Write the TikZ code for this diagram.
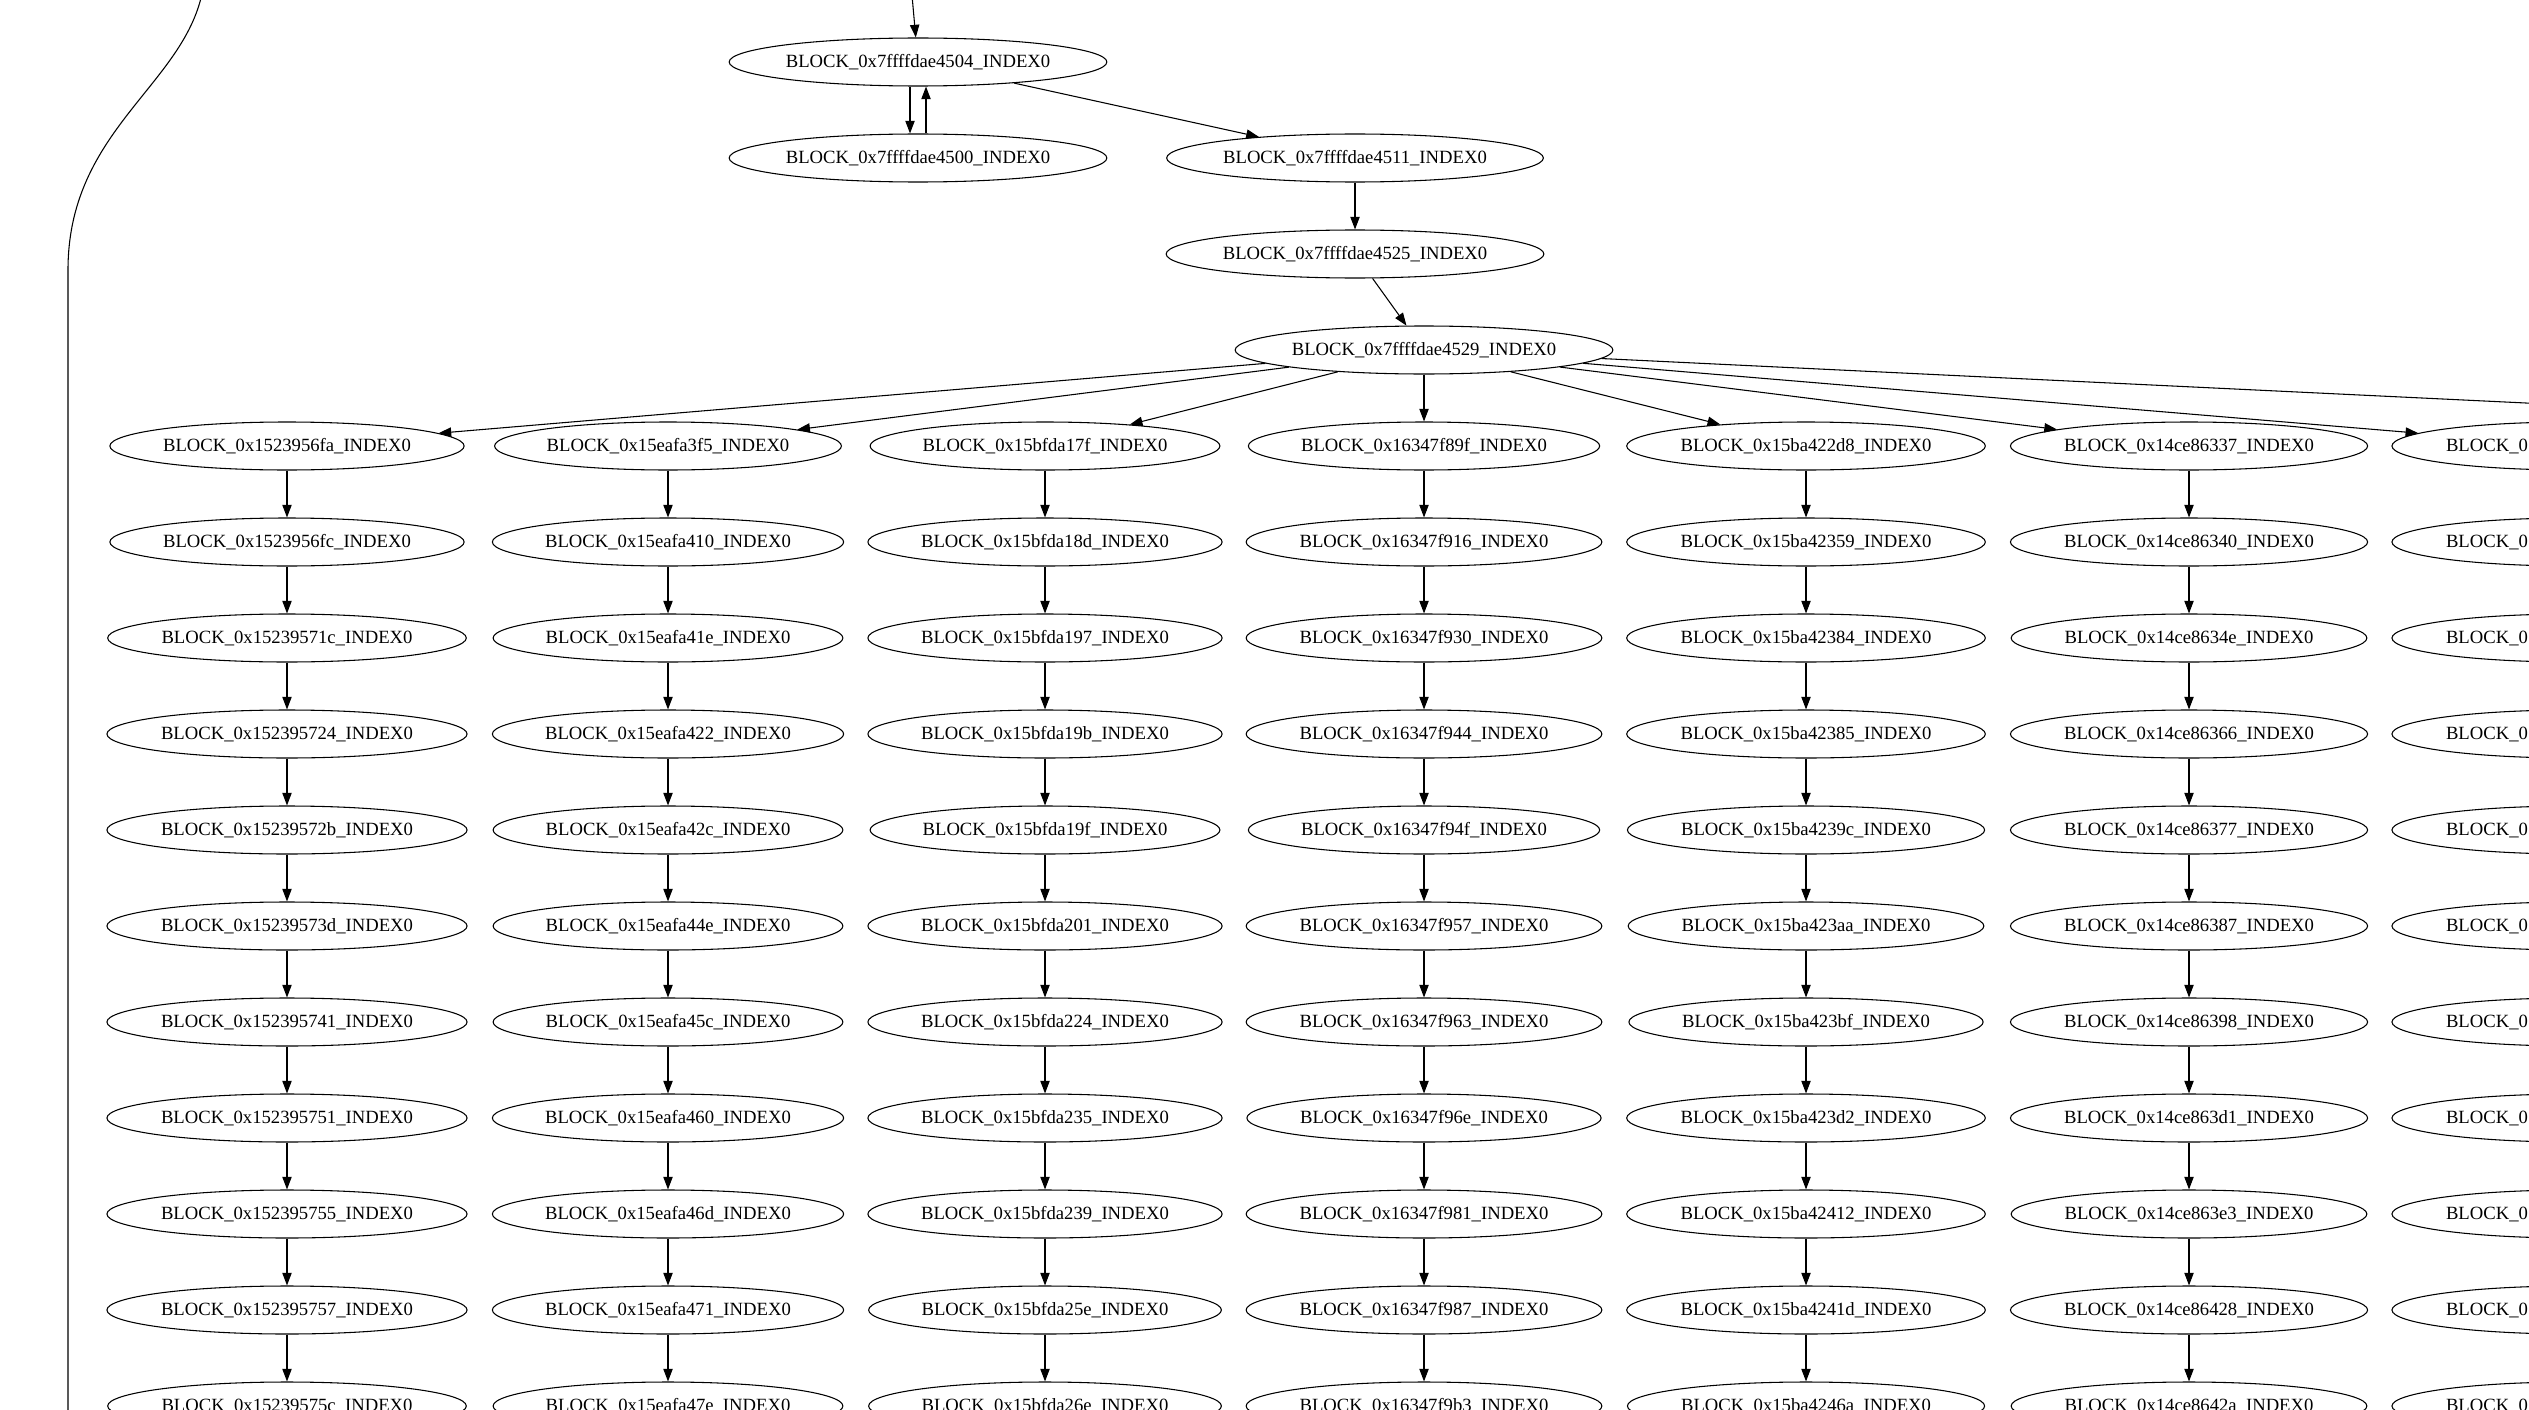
\documentclass[tikz,border=0pt]{standalone}
\usepackage{fontspec}
\setmainfont{Liberation Serif}
\usetikzlibrary{arrows.meta,shapes.geometric}

\begin{document}
\begin{tikzpicture}[x=0.75pt,y=-0.75pt,
    block/.style={draw,ellipse,line width=0.8pt,inner xsep=1pt,inner ysep=1pt,
                  minimum height=36pt,font=\fontsize{14}{16}\selectfont},
    edge/.style={line width=0.8pt,-{Triangle[length=9.5pt,width=7pt]}}]
    \fill[white] (0,0) rectangle (2529,1409);
    \useasboundingbox (0,0) rectangle (2529,1409);
    \clip (0,0) rectangle (2529,1409);

    \node[block] (b4504) at (918,62)   {BLOCK\_0x7ffffdae4504\_INDEX0};
    \node[block] (b4500) at (918,158)  {BLOCK\_0x7ffffdae4500\_INDEX0};
    \node[block] (b4511) at (1355,158) {BLOCK\_0x7ffffdae4511\_INDEX0};
    \node[block] (b4525) at (1355,254) {BLOCK\_0x7ffffdae4525\_INDEX0};
    \node[block] (b4529) at (1424,350) {BLOCK\_0x7ffffdae4529\_INDEX0};

    \foreach \col/\cx/\hexes in {
        1/287/{1523956fa,1523956fc,15239571c,152395724,15239572b,15239573d,152395741,152395751,152395755,152395757,15239575c},
        2/668/{15eafa3f5,15eafa410,15eafa41e,15eafa422,15eafa42c,15eafa44e,15eafa45c,15eafa460,15eafa46d,15eafa471,15eafa47e},
        3/1045/{15bfda17f,15bfda18d,15bfda197,15bfda19b,15bfda19f,15bfda201,15bfda224,15bfda235,15bfda239,15bfda25e,15bfda26e},
        4/1424/{16347f89f,16347f916,16347f930,16347f944,16347f94f,16347f957,16347f963,16347f96e,16347f981,16347f987,16347f9b3},
        5/1806/{15ba422d8,15ba42359,15ba42384,15ba42385,15ba4239c,15ba423aa,15ba423bf,15ba423d2,15ba42412,15ba4241d,15ba4246a},
        6/2189/{14ce86337,14ce86340,14ce8634e,14ce86366,14ce86377,14ce86387,14ce86398,14ce863d1,14ce863e3,14ce86428,14ce8642a}}
      \foreach \h [count=\r] in \hexes
        \node[block] (c\col r\r) at (\cx,{62+96*(\r+3)}) {BLOCK\_0x\h\_INDEX0};
    \foreach \r in {1,...,11}
      \node[block] (c7r\r) at (2572,{62+96*(\r+3)}) {BLOCK\_0\phantom{x000000000\_INDEX0}};

    \coordinate (entry) at (907,-60);
    \coordinate (away) at (2900,421);
    \coordinate (loopin) at (205,-30);
    \coordinate (loopout) at (68,1480);

    \draw[edge] (entry) -- (b4504);
    \draw[edge] ([xshift=-6pt]b4504.south) -- ([xshift=-6pt]b4500.north);
    \draw[edge] ([xshift=6pt]b4500.north) -- ([xshift=6pt]b4504.south);
    \draw[edge] (b4504) -- (b4511);
    \draw[edge] (b4511) -- (b4525);
    \draw[edge] (b4525) -- (b4529);
    \foreach \col in {1,...,7}
      \draw[edge] (b4529) -- (c\col r1);
    \draw[edge] (b4529) -- (away);
    \foreach \col in {1,...,6}
      \foreach \r [count=\s from 2] in {1,...,10}
        \draw[edge] (c\col r\r) -- (c\col r\s);

    \draw[line width=0.8pt] (loopin) .. controls (201,80) and (68,120) .. (68,270) -- (loopout);
\end{tikzpicture}
\end{document}
